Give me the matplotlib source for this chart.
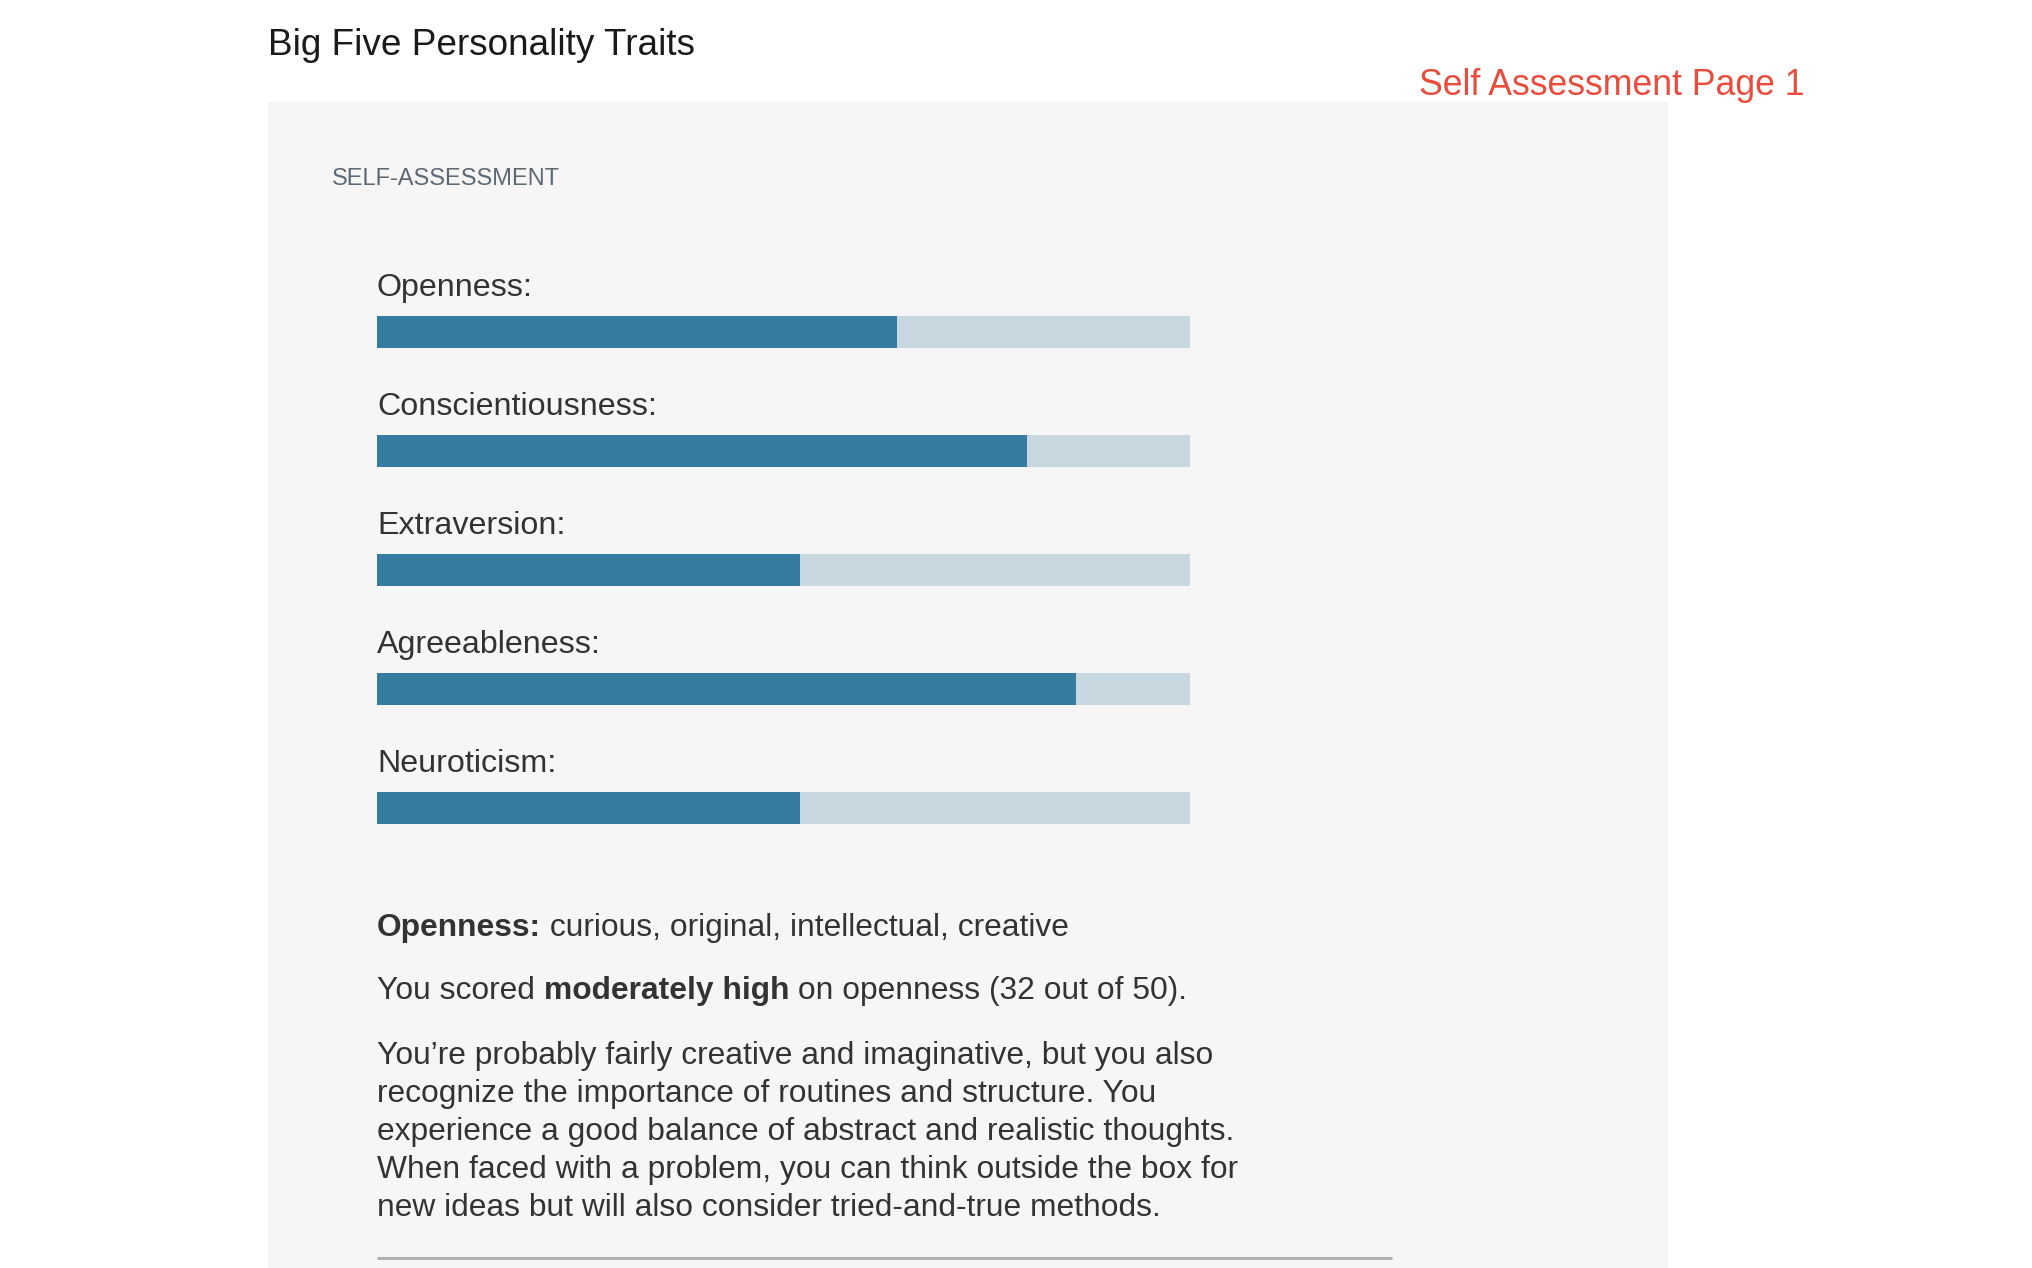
import matplotlib
matplotlib.use("Agg")
import matplotlib.pyplot as plt
from matplotlib.patches import Rectangle

plt.rcParams['font.family'] = ['Liberation Sans', 'DejaVu Sans']

# ---- data ----
title = "Big Five Personality Traits"
page_label = "Self Assessment Page 1"
section_label = "SELF-ASSESSMENT"
traits = ["Openness", "Conscientiousness", "Extraversion", "Agreeableness", "Neuroticism"]
scores = [32, 40, 26, 43, 26]
max_score = 50
focus_trait = "Openness"
focus_adjectives = "curious, original, intellectual, creative"
focus_level = "moderately high"
paragraph_lines = [
    "You\u2019re probably fairly creative and imaginative, but you also",
    "recognize the importance of routines and structure. You",
    "experience a good balance of abstract and realistic thoughts.",
    "When faced with a problem, you can think outside the box for",
    "new ideas but will also consider tried-and-true methods.",
]

W, H = 2032, 1268
TEXT = "#333333"
DARK = "#367ba0"
LIGHT = "#c7d8e0"
X0 = 377

fig = plt.figure(figsize=(W / 100, H / 100), dpi=100)
fig.patch.set_facecolor("white")
ax = fig.add_axes([0, 0, 1, 1])
ax.set_xlim(0, W)
ax.set_ylim(H, 0)
ax.axis("off")

# panel
ax.add_patch(Rectangle((268, 102), 1400, H - 102, facecolor="#f6f6f6", edgecolor="none", zorder=0))

ax.text(268, 55, title, fontsize=26.6, color="#1a1a1a", va="baseline", ha="left")
ax.text(1419, 95, page_label, fontsize=25.7, color="#e84c3d", va="baseline", ha="left")
ax.text(332, 185, section_label, fontsize=17.0, color="#5e6873", va="baseline", ha="left")

# bars
bar_left, bar_right = 377, 1190
first_center, step, bar_h = 332, 119.1, 32
centers = [first_center + i * step for i in range(len(traits))]

bax = fig.add_axes([bar_left / W, 0, (bar_right - bar_left) / W, 1])
bax.set_xlim(0, max_score)
bax.set_ylim(H, 0)
bax.axis("off")
bax.patch.set_alpha(0)
bax.barh(centers, [max_score] * len(traits), height=bar_h, color=LIGHT, left=0)
bax.barh(centers, scores, height=bar_h, color=DARK, left=0)

for name, c in zip(traits, centers):
    ax.text(X0, c - bar_h / 2 - 20, name + ":", fontsize=23.2, color=TEXT,
            va="baseline", ha="left")

# description block
renderer = fig.canvas.get_renderer()
FS = 22.9

def mixed_line(parts, x, y, size):
    for txt, bold in parts:
        t = ax.text(x, y, txt, fontsize=size, color=TEXT, va="baseline", ha="left",
                    fontweight="bold" if bold else "normal")
        ext = t.get_window_extent(renderer=renderer)
        x = ext.x1

mixed_line([(focus_trait + ":", True), (" " + focus_adjectives, False)], X0, 936, FS)
score_idx = traits.index(focus_trait)
mixed_line([("You scored ", False), (focus_level, True),
            (" on %s (%d out of %d)." % (focus_trait.lower(), scores[score_idx], max_score), False)],
           X0, 999, FS)

for i, line in enumerate(paragraph_lines):
    ax.text(X0, 1064 + i * 38.0, line, fontsize=FS, color=TEXT, va="baseline", ha="left")

ax.plot([X0, 1392], [1258, 1258], color="#b0b0b0", lw=2.2, solid_capstyle="butt")

fig.savefig("out.png", dpi=100, facecolor="white")
